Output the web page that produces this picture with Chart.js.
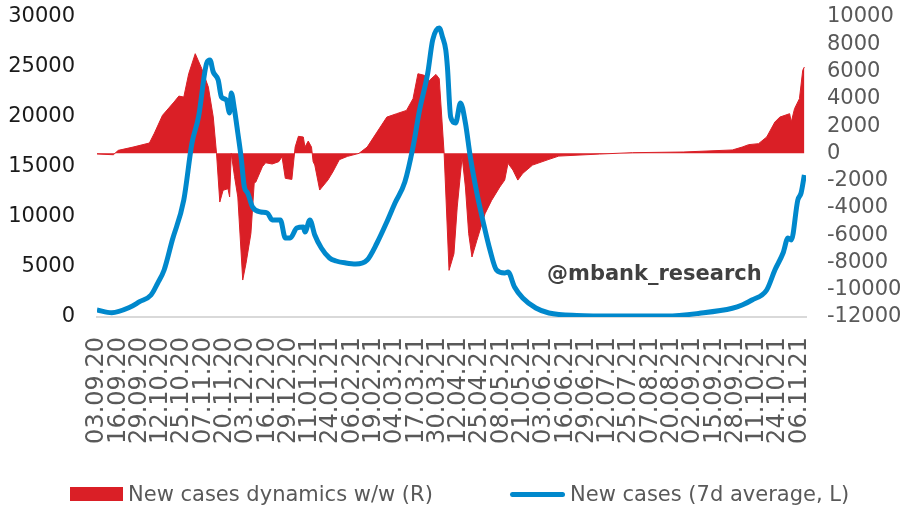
<!DOCTYPE html>
<html>
<head>
<meta charset="utf-8">
<script src="https://cdn.jsdelivr.net/npm/chart.js@4.4.1/dist/chart.umd.min.js"></script>
<style>
  html, body { margin: 0; padding: 0; background: #fff; }
  #wrap { position: relative; width: 902px; height: 508px; }
  .legend { position: absolute; top: 480px; left: 0; width: 902px; height: 28px; font: 21px "DejaVu Sans", sans-serif; color: #595959; }
  .item { position: absolute; top: 0; height: 28px; display: flex; align-items: center; white-space: nowrap; }
  .box { width: 53px; height: 14px; background: #da1f26; margin-right: 5px; }
  .ln { width: 55px; height: 5px; border-radius: 3px; background: #0088cc; margin-right: 5px; }
</style>
</head>
<body>
<div id="wrap">
  <canvas id="myChart" width="902" height="508"></canvas>
  <div class="legend">
    <div class="item" style="left:70px"><span class="box"></span>New cases dynamics w/w (R)</div>
    <div class="item" style="left:510px"><span class="ln"></span>New cases (7d average, L)</div>
  </div>
</div>
<script>
// tick labels, one every 13 days starting 03.09.20
const tickLabels = ['03.09.20', '16.09.20', '29.09.20', '12.10.20', '25.10.20', '07.11.20', '20.11.20',
  '03.12.20', '16.12.20', '29.12.20', '11.01.21', '24.01.21', '06.02.21', '19.02.21', '04.03.21',
  '17.03.21', '30.03.21', '12.04.21', '25.04.21', '08.05.21', '21.05.21', '03.06.21', '16.06.21',
  '29.06.21', '12.07.21', '25.07.21', '07.08.21', '20.08.21', '02.09.21', '15.09.21', '28.09.21',
  '11.10.21', '24.10.21', '06.11.21'];
const tickStep = 13;

// new cases, 7d average (left axis) - day number counted from 03.09.20
const casesDays = [0, 9, 20, 26, 33, 37, 41, 46, 53, 58, 62, 67, 69, 71, 74, 76, 79, 81, 82, 84,
  86, 88, 90, 92, 95, 100, 104, 107, 112, 115, 118, 122, 126, 127, 130, 133, 137, 142, 146, 152,
  158, 165, 171, 177, 182, 188, 193, 197, 202, 205, 209, 211, 213, 214, 216, 219, 222, 225, 228, 232,
  236, 240, 244, 249, 251, 255, 260, 268, 276, 293, 317, 348, 368, 388, 394, 400, 409, 414, 419, 422,
  424, 428, 430, 432];
const casesAvg = [700, 430, 970, 1530, 2200, 3370, 4700, 7700, 11700, 17400, 20000, 25400, 25700, 24500, 23700, 22000, 21700, 20400, 22400, 20700,
  18400, 16000, 13000, 12400, 11000, 10500, 10400, 9700, 9700, 7900, 7900, 8900, 9000, 8500, 9700, 8200, 6900, 5900, 5600, 5400,
  5300, 5700, 7400, 9500, 11400, 13500, 17000, 20700, 24400, 27700, 28900, 28000, 26700, 25000, 20000, 19400, 21400, 19400, 16000, 12400,
  9400, 6700, 4700, 4400, 4500, 3000, 1900, 900, 400, 150, 100, 100, 370, 870, 1200, 1700, 2700, 4700, 6400, 7900,
  7700, 11700, 12400, 14200];

// new cases dynamics w/w (right axis)
const dynDays = [0, 10, 13, 22, 32, 35, 40, 47, 50, 53, 56, 60, 64, 68, 71, 73, 75, 77, 80, 81,
  82, 84, 86, 89, 91, 94, 96, 97, 101, 103, 107, 111, 113, 115, 119, 121, 123, 126, 127, 129,
  131, 132, 133, 136, 141, 144, 148, 153, 160, 165, 171, 177, 183, 189, 193, 196, 200, 203, 207, 209,
  212, 215, 218, 220, 223, 225, 227, 229, 232, 237, 241, 246, 249, 251, 254, 257, 260, 266, 276, 282,
  307, 327, 358, 388, 394, 398, 404, 409, 414, 417, 423, 424, 426, 429, 431, 432];
const dynWW = [-50, -100, 220, 460, 760, 1470, 2790, 3760, 4200, 4130, 5840, 7310, 6210, 4860, 2670, 0, -3570, -2710, -2590, -3200,
  0, -1710, -3200, -9290, -8070, -5870, -2200, -2100, -980, -690, -780, -610, -250, -1830, -1910, 460, 1250, 1200, 460, 900,
  460, -610, -850, -2690, -1960, -1370, -460, -220, 0, 460, 1560, 2660, 2910, 3150, 4010, 5840, 5720, 5350, 5790, 5480,
  0, -8580, -7360, -3940, -250, -2470, -5890, -7600, -6380, -4420, -3450, -2470, -1960, -730, -1220, -1960, -1470, -860, -440, -200,
  -50, 50, 100, 250, 460, 640, 710, 1200, 2300, 2660, 2910, 2300, 3280, 4010, 6090, 6330];

const font = 'DejaVu Sans';

// @mbank_research tag
const watermark = {
  id: 'watermark',
  beforeDatasetsDraw(chart) {
    const { ctx, chartArea } = chart;
    ctx.save();
    ctx.font = 'bold 21px "' + font + '"';
    ctx.fillStyle = '#404040';
    ctx.textBaseline = 'middle';
    ctx.fillText('@mbank_research', chartArea.left + 450, chartArea.top + 258);
    ctx.restore();
  }
};

// fixed axis sizes so the plot sits where it does in the original
function fixSize(size) {
  return (scale) => {
    if (scale.isHorizontal()) scale.height = size;
    else scale.width = size;
    scale.paddingTop = 0;
    scale.paddingBottom = 0;
    scale.paddingLeft = 0;
    scale.paddingRight = 0;
  };
}

const canvas = document.getElementById('myChart');
const myChart = new Chart(canvas, {
  type: 'line',
  data: {
    datasets: [{
      label: 'New cases dynamics w/w (R)',
      data: dynDays.map((d, i) => ({ x: d, y: dynWW[i] })),
      yAxisID: 'y1',
      fill: 'origin',
      backgroundColor: '#da1f26',
      borderColor: '#da1f26',
      borderWidth: 1,
      pointRadius: 0,
      tension: 0,
      order: 2
    }, {
      label: 'New cases (7d average, L)',
      data: casesDays.map((d, i) => ({ x: d, y: casesAvg[i] })),
      yAxisID: 'y',
      fill: false,
      borderColor: '#0088cc',
      borderWidth: 5,
      pointRadius: 0,
      cubicInterpolationMode: 'monotone',
      order: 1
    }]
  },
  options: {
    responsive: false,
    animation: false,
    layout: { padding: { left: 8, right: 0, top: 17, bottom: 59 } },
    plugins: {
      legend: { display: false },
      tooltip: { enabled: false }
    },
    scales: {
      x: {
        type: 'linear',
        min: 0,
        max: 433,
        grid: { display: false, drawTicks: false },
        border: { display: true, color: '#d9d9d9', width: 2 },
        afterBuildTicks: (scale) => {
          scale.ticks = tickLabels.map((t, i) => ({ value: i * tickStep }));
        },
        afterFit: fixSize(132),
        ticks: {
          autoSkip: false,
          maxRotation: 90,
          minRotation: 90,
          padding: 20,
          color: '#595959',
          font: { family: font, size: 24 },
          callback: (v, i) => tickLabels[i]
        }
      },
      y: {
        position: 'left',
        min: 0,
        max: 30000,
        grid: { display: false, drawTicks: false },
        border: { display: false },
        afterFit: fixSize(89),
        ticks: { stepSize: 5000, autoSkip: false, padding: 22, color: '#1a1a1a', font: { family: font, size: 21 }, callback: (v) => String(v) }
      },
      y1: {
        position: 'right',
        min: -12000,
        max: 10000,
        grid: { display: false, drawTicks: false },
        border: { display: false },
        afterFit: fixSize(96),
        ticks: { stepSize: 2000, autoSkip: false, maxTicksLimit: 20, padding: 21, color: '#595959', font: { family: font, size: 21 }, callback: (v) => String(v) }
      }
    }
  },
  plugins: [watermark]
});
</script>
</body>
</html>
